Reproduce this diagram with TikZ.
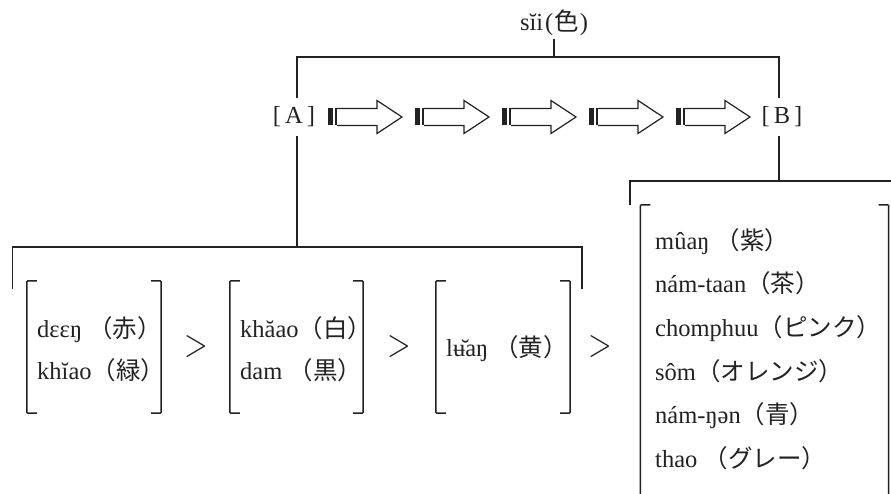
\documentclass[tikz,border=0pt]{standalone}
\usepackage{fontspec}
\setmainfont{Liberation Serif}
\newfontfamily\jpfont{Noto Sans CJK JP}
\definecolor{ink}{HTML}{222222}
\begin{document}
\begin{tikzpicture}[x=1pt,y=-1pt,
  line/.style={draw=ink, line width=1.3pt},
  lbl/.style={inner sep=0pt, text=ink, font=\fontsize{24.5}{42}\selectfont},
  boxtext/.style={lbl, align=left, anchor=west},
  brk/.style={draw=ink, line width=1.5pt, rounded corners=1pt},
  gt/.style={lbl},
  slot/.style={inner sep=0pt, draw=none},
  endlabel/.style={lbl, inner xsep=0pt, inner ysep=9pt},
  bararrow/.pic={
    \fill[ink] (0,-8.5) rectangle (5,8.5);
    \fill[ink] (7,-8.5) rectangle (9,8.5);
    \draw[draw=ink, line width=1.2pt, fill=white]
      (9,-8.5) -- (49,-8.5) -- (49,-16.5) -- (74,0) -- (49,16.5) -- (49,8.5) -- (9,8.5);
  }
]
\useasboundingbox (0,0) rectangle (891,494);

% title and tree top
\node[lbl] (sii) at (554,23) {sĭi\hspace{2pt}(\hspace{1pt}{\jpfont 色}\hspace{1pt})};
\node[endlabel] (A) at (294,117) {[\hspace{4pt}A\hspace{4pt}]};
\node[endlabel] (B) at (782,117) {[\hspace{4pt}B\hspace{4pt}]};
\coordinate (topL) at (297,57);
\draw[line] ([yshift=-3pt]sii.south) -- (sii.south |- topL);
\draw[line] ([xshift=3pt]A.north) -- ([xshift=3pt]A.north |- topL) -- ([xshift=-3pt]B.north |- topL) -- ([xshift=-3pt]B.north);

% arrows between A and B
\pic at (328,117) {bararrow};
\pic at (415,117) {bararrow};
\pic at (502,117) {bararrow};
\pic at (589,117) {bararrow};
\pic at (676,117) {bararrow};

% left branch
\coordinate (hL) at (12.5,247);
\coordinate (hR) at (582,247);
\coordinate (dL) at (12.5,289);
\coordinate (dR) at (582,289);
\draw[line] (dL) -- (hL) -- (hR) -- (dR);
\draw[line] ([xshift=3pt]A.south) -- ([xshift=3pt]A.south |- hL);

% right branch
\coordinate (rL) at (630,181);
\coordinate (rR) at (891,181);
\coordinate (rD) at (630,205);
\draw[line] (rD) -- (rL) -- (rR);
\draw[line] ([xshift=-3pt]B.south) -- ([xshift=-3pt]B.south |- rL);

% bracket boxes
\node[slot, minimum width=134pt, minimum height=132pt] (b1) at (94,347) {};
\node[slot, minimum width=133pt, minimum height=132pt] (b2) at (296.5,347) {};
\node[slot, minimum width=134pt, minimum height=132pt] (b3) at (503,347) {};
\node[slot, minimum width=248pt, minimum height=305pt] (b4) at (764.5,357.5) {};
\foreach \b in {b1,b2,b3,b4}{
  \draw[brk] ([xshift=10pt]\b.north west) -- (\b.north west) -- (\b.south west) -- ([xshift=10pt]\b.south west);
  \draw[brk] ([xshift=-10pt]\b.north east) -- (\b.north east) -- (\b.south east) -- ([xshift=-10pt]\b.south east);
}

% texts
\node[boxtext] (t1) at (37,349) {dɛɛŋ {\jpfont （赤）}\\khĭao{\jpfont （緑）}};
\node[boxtext] (t2) at (240,349) {khăao{\jpfont （白）}\\dam {\jpfont （黒）}};
\node[boxtext] (t3) at (446,349) {lʉ̆aŋ {\jpfont （黄）}};
\node[boxtext, font=\fontsize{24.5}{43.6}\selectfont] (t4) at (655,349) {mûaŋ {\jpfont （紫）}\\nám-taan{\jpfont （茶）}\\chomphuu{\jpfont （ピンク）}\\sôm{\jpfont （オレンジ）}\\nám-ŋən{\jpfont （青）}\\thao {\jpfont （グレー）}};

% order marks
\node[gt] (g1) at (196,347) {\scalebox{1.25}[1.6]{$>$}};
\node[gt] (g2) at (399,347) {\scalebox{1.25}[1.6]{$>$}};
\node[gt] (g3) at (600,347) {\scalebox{1.25}[1.6]{$>$}};
\end{tikzpicture}
\end{document}
